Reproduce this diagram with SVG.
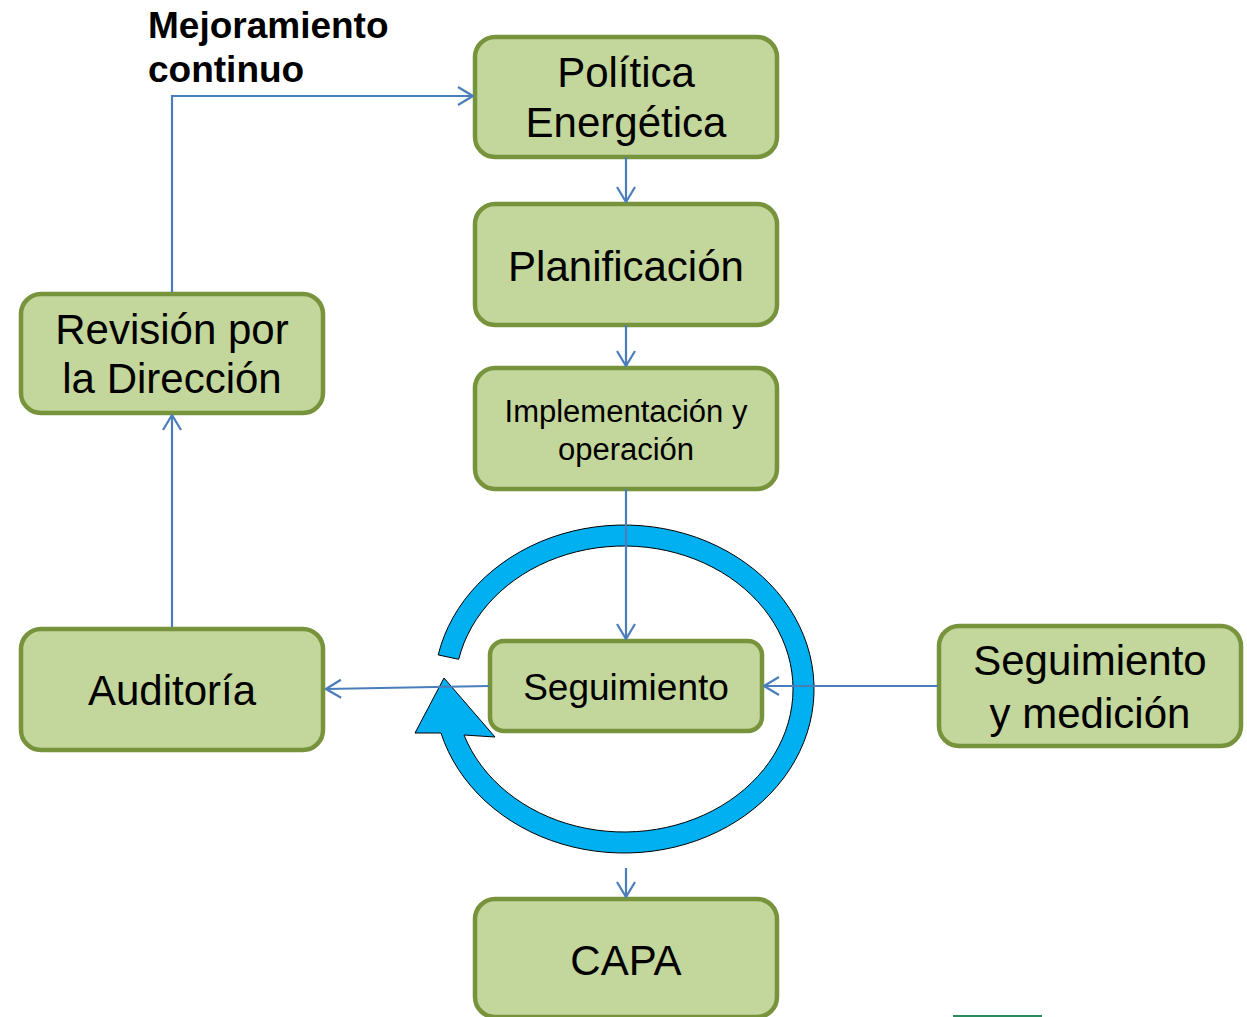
<svg xmlns="http://www.w3.org/2000/svg" width="1247" height="1017" viewBox="0 0 1247 1017">
  <style>
    .box { fill: #C3D69B; stroke: #77933C; stroke-width: 4.5; }
    .t { font-family: "Liberation Sans", Arial, sans-serif; fill: #000; text-anchor: middle; }
    .big { font-size: 42px; }
    .lbl { font-family: "Liberation Sans", Arial, sans-serif; font-weight: bold; font-size: 37px; fill: #000; }
    .conn { fill: none; stroke: #4A7EBB; stroke-width: 2.2; marker-end: url(#ah); }
  </style>
  <defs>
    <marker id="ah" markerUnits="userSpaceOnUse" viewBox="0 0 17 21" refX="16" refY="10.5" markerWidth="17" markerHeight="21" orient="auto">
      <path d="M1,1.5 L16,10.5 L1,19.5" fill="none" stroke="#4A7EBB" stroke-width="2.2"/>
    </marker>
  </defs>

  <g id="cycle-arrow">
    <path d="M438.2,654.9 A190,164 0 1 1 441,733 L415,733 L444,678 L495,737 L464,735 A169,143 0 1 0 458.7,659.3 Z" fill="#00B0F0" stroke="#000" stroke-width="1"/>
  </g>

  <g id="label-mejoramiento">
    <text class="lbl" x="148" y="38">Mejoramiento</text>
    <text class="lbl" x="148" y="82">continuo</text>
  </g>

  <g id="node-politica">
    <rect class="box" x="475" y="37" width="302" height="120" rx="20"/>
    <text class="t big" x="626" y="87">Política</text>
    <text class="t big" x="626" y="137">Energética</text>
  </g>
  <g id="node-planificacion">
    <rect class="box" x="475" y="204" width="302" height="121" rx="20"/>
    <text class="t big" x="626" y="281">Planificación</text>
  </g>
  <g id="node-implementacion">
    <rect class="box" x="475" y="368" width="302" height="121" rx="20"/>
    <text class="t" font-size="31" x="626" y="422">Implementación y</text>
    <text class="t" font-size="31" x="626" y="460">operación</text>
  </g>
  <g id="node-seguimiento">
    <rect class="box" x="490" y="641" width="272" height="90" rx="14"/>
    <text class="t" font-size="37" x="626" y="700">Seguimiento</text>
  </g>
  <g id="node-capa">
    <rect class="box" x="475" y="899" width="302" height="118" rx="20"/>
    <text class="t big" x="626" y="975">CAPA</text>
  </g>
  <g id="node-revision">
    <rect class="box" x="21" y="294" width="302" height="119" rx="20"/>
    <text class="t big" x="172" y="344">Revisión por</text>
    <text class="t big" x="172" y="393">la Dirección</text>
  </g>
  <g id="node-auditoria">
    <rect class="box" x="21" y="629" width="302" height="121" rx="20"/>
    <text class="t big" x="172" y="705">Auditoría</text>
  </g>
  <g id="node-medicion">
    <rect class="box" x="939" y="626" width="302" height="120" rx="20"/>
    <text class="t big" x="1090" y="675">Seguimiento</text>
    <text class="t big" x="1090" y="728">y medición</text>
  </g>

  <g id="connectors">
    <path class="conn" d="M172,292 V96 H473"/>
    <path class="conn" d="M626,157 V202"/>
    <path class="conn" d="M626,325 V366"/>
    <path class="conn" d="M626,489 V639"/>
    <path class="conn" d="M489,686 L326,689"/>
    <path class="conn" d="M938,686 H764"/>
    <path class="conn" d="M172,627 V415"/>
    <path class="conn" d="M626,868 V897"/>
  </g>

  <line x1="953" y1="1016" x2="1042" y2="1016" stroke="#2A8C5E" stroke-width="2"/>
</svg>
